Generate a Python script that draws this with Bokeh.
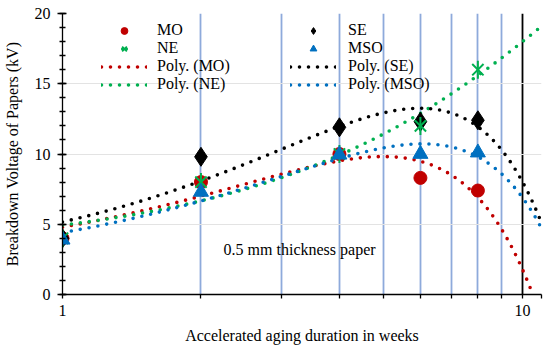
import numpy as np
from bokeh.plotting import figure
from bokeh.models import (Range1d, FixedTicker, SingleIntervalTicker, Legend, LegendItem, Label)
from bokeh.embed import file_html
from bokeh.resources import INLINE

# ---- data ----
weeks = [1, 2, 4, 6, 8]
mo = [4.0, 8.0, 10.0, 8.3, 7.4]
ne = [4.0, 8.0, 10.0, 12.0, 16.0]
se = [4.0, 9.8, 11.9, 12.3, 12.4]
mso = [3.9, 7.3, 9.95, 10.0, 10.1]
x_ticks = [1, 10]
x_tick_labels = ["1", "10"]
x_minor = [2, 3, 4, 5, 6, 7, 8, 9, 11]

RED = "#c00000"
GREEN = "#00b050"
BLACK = "#000000"
BLUE = "#0070c0"
FONT = "'Liberation Serif', 'Times New Roman', serif"

p = figure(width=550, height=352, x_axis_type="log", output_backend="svg",
           toolbar_location=None, x_range=Range1d(1, 11), y_range=Range1d(0, 20),
           min_border_left=60, min_border_right=9, min_border_top=13, min_border_bottom=58)
p.outline_line_color = None
p.background_fill_color = "white"

# axes
p.xaxis.ticker = FixedTicker(ticks=x_ticks, minor_ticks=x_minor)
p.xaxis.major_label_overrides = {t: l for t, l in zip(x_ticks, x_tick_labels)}
p.yaxis.ticker = SingleIntervalTicker(interval=5, num_minor_ticks=5)
p.xaxis.axis_label = "Accelerated aging duration in weeks"
p.yaxis.axis_label = "Breakdown Voltage of Papers (kV)"
for ax in (p.xaxis, p.yaxis):
    ax.axis_line_color = "black"
    ax.axis_line_width = 1.3
    ax.major_tick_line_color = "black"
    ax.minor_tick_line_color = "black"
    ax.major_tick_line_width = 1.3
    ax.minor_tick_line_width = 1.3
    ax.major_label_text_font = FONT
    ax.major_label_text_font_size = "16px"
    ax.major_label_text_color = "black"
    ax.axis_label_text_font = FONT
    ax.axis_label_text_font_size = "16px"
    ax.axis_label_text_font_style = "normal"
    ax.axis_label_text_color = "black"
p.xaxis.major_tick_out = 4
p.xaxis.major_tick_in = 0
p.xaxis.minor_tick_out = 4
p.xaxis.minor_tick_in = 0
p.xaxis.major_label_standoff = 6
p.xaxis.axis_label_standoff = 8
p.yaxis.major_tick_out = 5
p.yaxis.major_tick_in = 4
p.yaxis.minor_tick_out = 3
p.yaxis.minor_tick_in = 3
p.yaxis.major_label_standoff = 7
p.yaxis.axis_label_standoff = 11

# grids
p.xgrid.grid_line_color = "black"
p.xgrid.grid_line_width = 1.8
p.xgrid.minor_grid_line_color = "#8eaadb"
p.xgrid.minor_grid_line_width = 1.8
p.ygrid.grid_line_color = "#e3e3e3"
p.ygrid.grid_line_width = 1

# trendlines (2nd order polynomial fits of the data, like the spreadsheet trendline)
xf = np.linspace(1, 11, 300)
def trend(ys):
    c = np.polyfit(weeks, ys, 2)
    return np.polyval(c, xf)

dot = dict(line_width=3.6, line_dash="0 9", line_cap="round")
t_mo = p.line(xf, trend(mo), line_color=RED, **dot)
t_ne = p.line(xf, trend(ne), line_color=GREEN, **dot)
t_se = p.line(xf, trend(se), line_color=BLACK, **dot)
t_mso = p.line(xf, trend(mso), line_color=BLUE, **dot)

# markers
r_mo = p.scatter(weeks, mo, marker="circle", size=13, fill_color=RED, line_color=RED)
r_se = p.scatter(weeks, se, marker="diamond", size=19, fill_color=BLACK, line_color=BLACK)
r_ne = p.scatter(weeks, ne, marker="x", size=16, line_color=GREEN, line_width=2)
r_ne2 = p.scatter(weeks, ne, marker="dash", angle=np.pi / 2, size=18, line_color=GREEN, line_width=2)
r_mso = p.scatter(weeks, mso, marker="triangle", size=15, fill_color=BLUE, line_color=BLUE)

def mk_legend(items, loc, standoff):
    lg = Legend(items=items, location=loc, orientation="vertical")
    lg.background_fill_alpha = 0
    lg.border_line_alpha = 0
    lg.padding = 0
    lg.margin = 0
    lg.spacing = 0
    lg.glyph_width = 46
    lg.glyph_height = 17
    lg.label_height = 17
    lg.label_standoff = standoff
    lg.label_text_font = FONT
    lg.label_text_font_size = "16px"
    lg.label_text_color = "black"
    return lg

leg1 = mk_legend([LegendItem(label="MO", renderers=[r_mo]),
                  LegendItem(label="NE", renderers=[r_ne, r_ne2]),
                  LegendItem(label="Poly. (MO)", renderers=[t_mo]),
                  LegendItem(label="Poly. (NE)", renderers=[t_ne])], (39, 201), 10)
leg2 = mk_legend([LegendItem(label="SE", renderers=[r_se]),
                  LegendItem(label="MSO", renderers=[r_mso]),
                  LegendItem(label="Poly. (SE)", renderers=[t_se]),
                  LegendItem(label="Poly. (MSO)", renderers=[t_mso])], (228, 201), 12)
p.add_layout(leg1, "center")
p.add_layout(leg2, "center")

p.add_layout(Label(x=2.24, y=3.2, text="0.5 mm thickness paper", text_font=FONT,
                   text_font_size="16px", text_baseline="middle", text_align="left",
                   text_color="black"))

open("out.html", "w").write(file_html(p, INLINE))
